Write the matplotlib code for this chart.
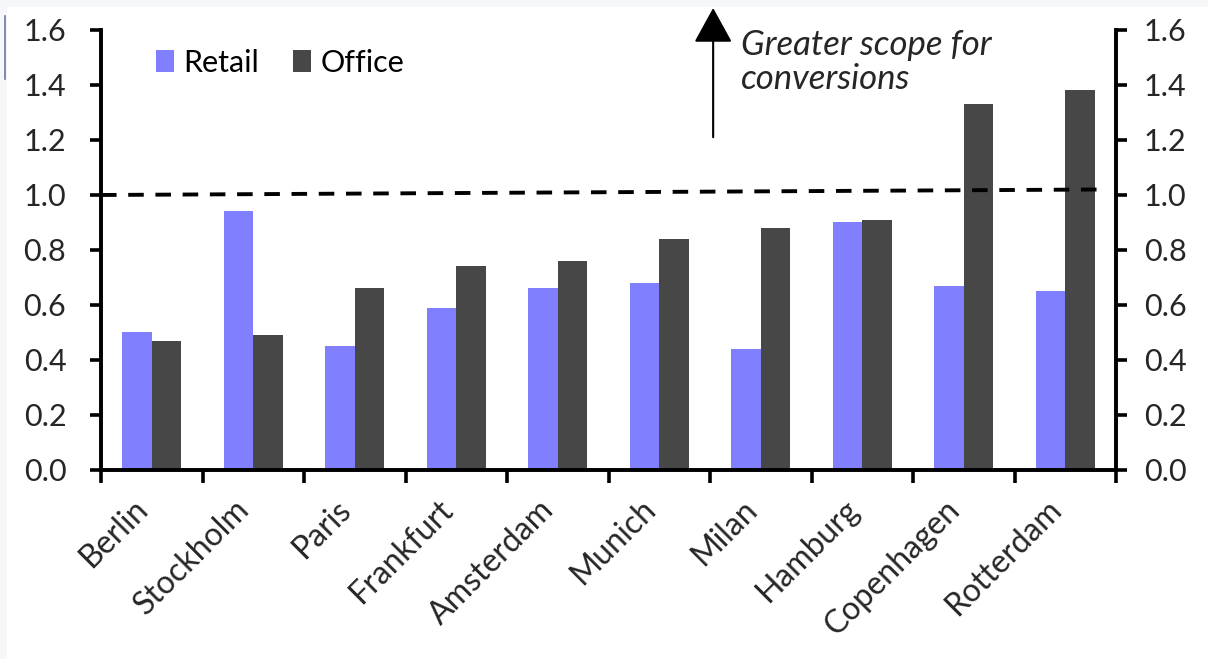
import numpy as np
import matplotlib.pyplot as plt
from matplotlib.lines import Line2D
from matplotlib.patches import Rectangle

# Data
cities = ['Berlin', 'Stockholm', 'Paris', 'Frankfurt', 'Amsterdam',
          'Munich', 'Milan', 'Hamburg', 'Copenhagen', 'Rotterdam']
retail = [0.50, 0.94, 0.45, 0.59, 0.66, 0.68, 0.44, 0.90, 0.67, 0.65]
office = [0.47, 0.49, 0.66, 0.74, 0.76, 0.84, 0.88, 0.91, 1.33, 1.38]
threshold_x = [-0.5, 9.35]
threshold_y = [1.0, 1.02]
yticks = [0.0, 0.2, 0.4, 0.6, 0.8, 1.0, 1.2, 1.4, 1.6]
ylabels = [f'{v:.1f}' for v in yticks]

plt.rcParams['font.family'] = ['Lato', 'DejaVu Sans']
txt = dict(color='#262626', fontweight='normal')

fig = plt.figure(figsize=(12.08, 6.59), dpi=100, facecolor='#f6f7f9')
# white page with the light screenshot border on top/left
fig.add_artist(Rectangle((0.006, 0), 1, 0.99, transform=fig.transFigure,
                         facecolor='white', edgecolor='none', zorder=0))
fig.add_artist(Line2D([0.004, 0.004], [0.88, 0.975], color='#6677aa', lw=1.2))

ax = fig.add_axes([0.0836, 0.2868, 0.8404, 0.6677])
ax.patch.set_alpha(0)

x = np.arange(len(cities))
w = 0.29
ax.bar(x - w / 2, retail, w, color='#8080ff', label='Retail', zorder=2)
ax.bar(x + w / 2, office, w, color='#474747', label='Office', zorder=2)

ax.plot(threshold_x, threshold_y, color='black', lw=2.8, dashes=(4, 3), zorder=3)

ax.set_xlim(-0.5, 9.5)
ax.set_ylim(0, 1.6)
ax.set_yticks(yticks)
ax.set_yticklabels(ylabels, fontsize=22, **txt)
ax.tick_params(axis='y', direction='out', length=8, width=2.6, pad=17)

ax2 = ax.twinx()
ax2.set_ylim(0, 1.6)
ax2.set_yticks(yticks)
ax2.set_yticklabels(ylabels, fontsize=22, **txt)
ax2.tick_params(axis='y', direction='out', length=8, width=2.6, pad=12)

ax.set_xticks(np.arange(-0.5, 10, 1))
ax.set_xticklabels([])
ax.tick_params(axis='x', direction='out', length=9, width=2.6)
for i, c in enumerate(cities):
    ax.text(i - 0.02, -0.15, c, rotation=45, ha='right', va='baseline',
            rotation_mode='anchor', fontsize=23, **txt)

for a in (ax, ax2):
    for s in ['left', 'right', 'bottom']:
        a.spines[s].set_linewidth(2.6)
    a.spines['top'].set_visible(False)

# Annotation arrow and text
ax.annotate('', xy=(5.53, 1.68), xytext=(5.53, 1.21),
            arrowprops=dict(arrowstyle='-|>,head_length=1.0,head_width=0.55',
                            mutation_scale=22, color='black', lw=1.5,
                            shrinkA=0, shrinkB=0),
            annotation_clip=False)
ax.text(5.8, 1.605, 'Greater scope for\nconversions', style='italic',
        fontsize=25, va='top', ha='left', linespacing=1.1, **txt)

ax.legend(loc='upper left', bbox_to_anchor=(0.027, 1.02), ncol=2, frameon=False,
          prop=dict(size=22), handlelength=0.6,
          handleheight=0.7, handletextpad=0.3, columnspacing=1.1)

fig.savefig('out.png', dpi=100, facecolor=fig.get_facecolor())
